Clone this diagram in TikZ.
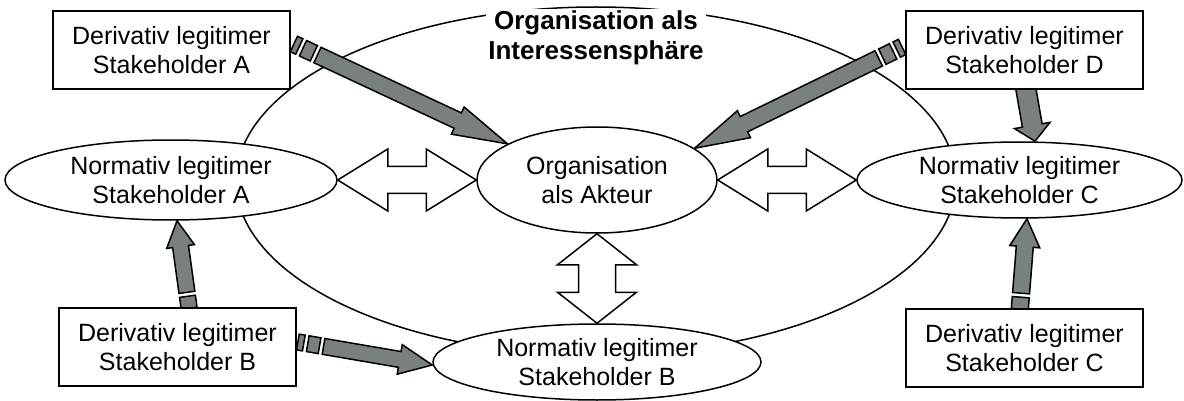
\documentclass[tikz,border=0pt]{standalone}
\usepackage{fontspec}
\setmainfont{Liberation Sans}
\usetikzlibrary{shapes.geometric,calc}
\definecolor{arrowgray}{RGB}{122,128,128}
\pgfdeclarelayer{back}
\pgfdeclarelayer{mid}
\pgfsetlayers{back,mid,main}

% angle and length from #1 to #2
\newcommand\getframe[2]{%
  \path let \p1 = ($(#2)-(#1)$) in \pgfextra{%
    \pgfmathsetmacro\garAng{atan2(\y1,\x1)}%
    \pgfmathsetmacro\garLen{veclen(\x1,\y1)}%
    \xdef\garAng{\garAng}\xdef\garLen{\garLen}};%
}
% striped arrow: from, to, shaft half, head half, head length
\newcommand\stripearrow[5]{%
  \getframe{#1}{#2}
  \begin{scope}[shift={(#1)}, rotate=\garAng]
    \draw[garrow] (0,-#3) rectangle (6,#3);
    \draw[garrow] (10,-#3) rectangle (22,#3);
    \draw[garrow] (26,-#3) -- ({\garLen-#5},-#3) -- ({\garLen-#5},-#4) -- (\garLen,0)
      -- ({\garLen-#5},#4) -- ({\garLen-#5},#3) -- (26,#3) -- cycle;
  \end{scope}}
% open double arrow: from, to, head length, head half, shaft half
\newcommand\openarrow[5]{%
  \getframe{#1}{#2}
  \begin{scope}[shift={(#1)}, rotate=\garAng]
    \draw[openarr] (0,0) -- (#3,-#4) -- (#3,-#5) -- ({\garLen-#3},-#5) -- ({\garLen-#3},-#4)
      -- (\garLen,0) -- ({\garLen-#3},#4) -- ({\garLen-#3},#5) -- (#3,#5) -- (#3,#4) -- cycle;
  \end{scope}}

\tikzset{
  derbox/.style={draw, fill=white, line width=1.8pt, minimum width=237pt, minimum height=78pt, align=center, inner sep=0pt},
  normell/.style={draw, fill=white, ellipse, line width=1.5pt, align=center, inner sep=0pt},
  garrow/.style={draw=black, fill=arrowgray, line width=1.5pt},
  openarr/.style={draw=black, fill=white, line width=1.5pt},
}

\begin{document}
\begin{tikzpicture}[x=1pt, y=-1pt, font=\fontsize{25}{29}\selectfont]
\useasboundingbox (0,0) rectangle (1184,401);

% Nodes
\node[derbox] (dA) at (171.5,50) {Derivativ legitimer\\Stakeholder A};
\node[derbox] (dD) at (1024.5,50) {Derivativ legitimer\\Stakeholder D};
\node[derbox] (dB) at (177.5,347) {Derivativ legitimer\\Stakeholder B};
\node[derbox] (dC) at (1024.5,348) {Derivativ legitimer\\Stakeholder C};
\node[normell, minimum width=332pt, minimum height=80pt] (nA) at (171,180) {Normativ legitimer\\Stakeholder A};
\node[normell, minimum width=325pt, minimum height=76pt] (nC) at (1019.5,180) {Normativ legitimer\\Stakeholder C};
\node[normell, minimum width=328pt, minimum height=76pt] (nB) at (597,362) {Normativ legitimer\\Stakeholder B};
\node[normell, minimum width=240pt, minimum height=106pt] (akt) at (597,180) {Organisation\\als Akteur};
\node[font=\bfseries\fontsize{26}{30}\selectfont, align=center, fill=white, inner sep=2pt] (title) at (596,38) {Organisation als\\Interessensphäre};

\begin{pgfonlayer}{back}
\node[draw, ellipse, line width=1.5pt, minimum width=720pt, minimum height=348pt] (sphere) at (596,181) {};
\end{pgfonlayer}

% Links
\coordinate (tA) at ($(dA.east)+(3,-6)$);
\coordinate (hA) at (akt.158);
\coordinate (tD) at ($(dD.west)+(-3,-3)$);
\coordinate (hD) at (akt.18);
\coordinate (tD2) at ($(dD.south)+(-3.5,-29)$);
\coordinate (hD2) at ($(nC.north)+(15.5,0)$);
\coordinate (tB) at ($(dB.north)+(13,11)$);
\coordinate (hB) at ($(nA.south)+(6,0)$);
\coordinate (tB2) at ($(dB.east)+(1,-5)$);
\coordinate (hB2) at ($(nB.west)+(0,3)$);
\coordinate (tC) at ($(dC.north)+(-5.5,11)$);
\coordinate (hC) at ($(nC.south)+(7.5,0)$);

\begin{pgfonlayer}{mid}
\stripearrow{tA}{hA}{8.5}{15}{55}
\stripearrow{tD}{hD}{8.5}{15}{55}
\stripearrow{tD2}{hD2}{10}{18}{16}
\stripearrow{tB}{hB}{8}{14}{26}
\stripearrow{tB2}{hB2}{8}{15}{33}
\stripearrow{tC}{hC}{8.5}{15}{28}
\openarrow{nA.east}{akt.west}{50}{31}{13.5}
\openarrow{akt.east}{nC.west}{50}{31}{13.5}
\openarrow{akt.south}{nB.north}{31}{39.5}{18.5}
\end{pgfonlayer}
\end{tikzpicture}
\end{document}
